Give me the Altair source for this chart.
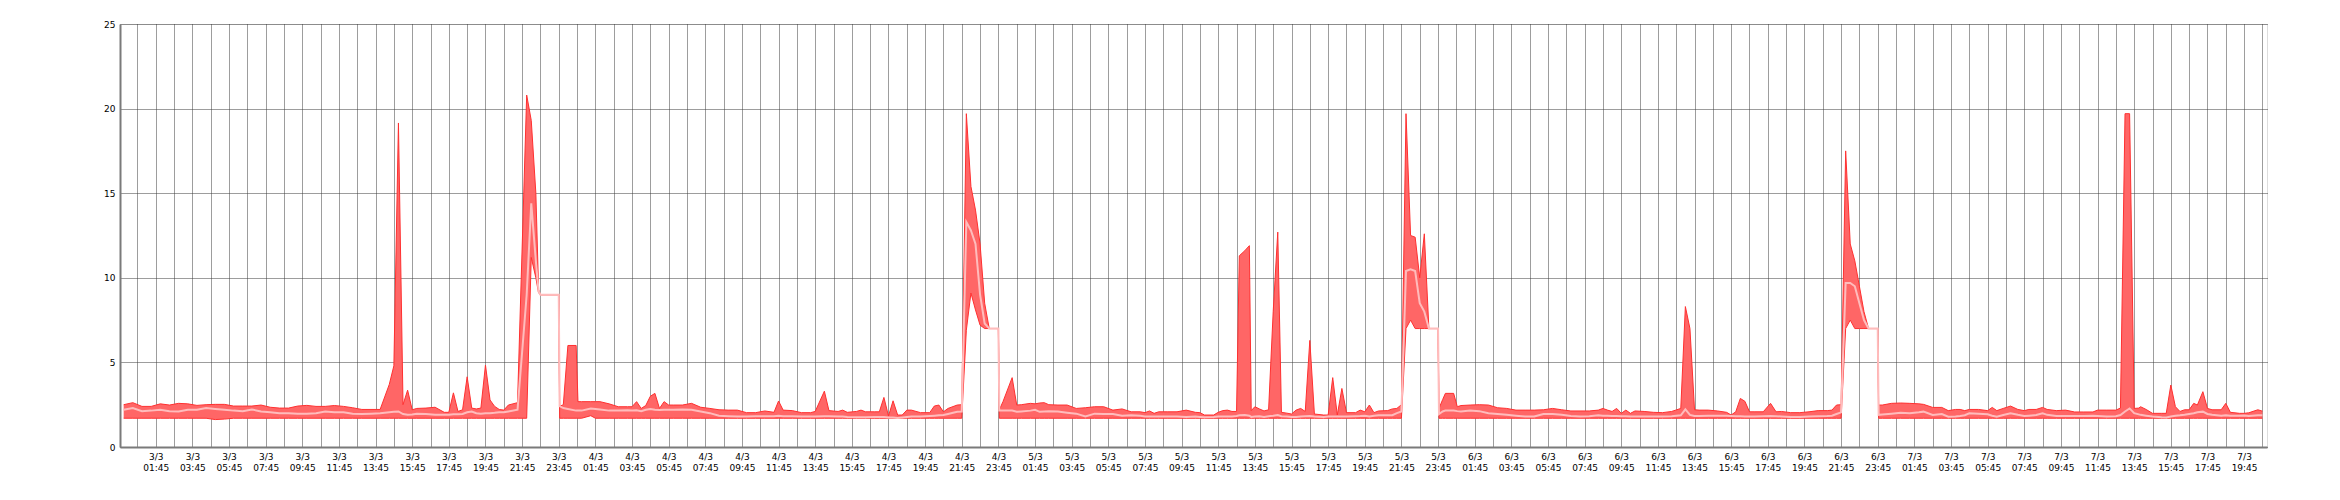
import altair as alt
import pandas as pd

# hours since 3/3 00:00
T = [0.0, 0.5, 1.0, 1.5, 2.0, 2.5, 3.0, 3.5, 4.0, 4.5, 5.0, 5.5, 6.0, 6.5, 7.0, 7.5, 8.0, 8.5, 9.0, 9.5,
     10.0, 10.5, 11.0, 11.5, 12.0, 12.5, 13.0, 13.5, 14.0, 14.5, 14.75, 15.0, 15.25, 15.5, 15.75, 16.0,
     16.5, 17.0, 17.5, 17.75, 18.0, 18.25, 18.5, 18.75, 19.0, 19.25, 19.5, 19.75, 20.0, 20.25, 20.5,
     20.75, 21.0, 21.5,
     22.0, 22.25, 22.5, 22.65, 22.75, 23.75, 23.8, 24.0, 24.25, 24.7, 24.8,
     25.0, 25.5, 25.75, 26.0, 26.5, 27.0, 27.5, 27.75, 28.0, 28.25, 28.5, 28.75, 29.0, 29.25, 29.5,
     29.75, 30.0, 30.5, 31.0, 31.5, 32.0, 32.5, 33.0, 33.5, 34.0, 34.5, 35.0, 35.5, 35.75, 36.0, 36.5,
     37.0, 37.5, 37.75, 38.25, 38.5, 39.0, 39.25, 39.5, 40.0, 40.25, 40.5, 41.0, 41.25, 41.5, 41.75,
     42.0, 42.25, 42.5, 42.75, 43.0, 43.5, 44.0, 44.25, 44.5, 44.75, 45.0, 45.5, 45.75,
     46.0, 46.25, 46.5, 46.75, 47.0, 47.25, 47.75, 47.8, 48.0, 48.5, 48.75,
     49.0, 49.5, 49.75, 50.0, 50.25, 50.5, 51.0, 51.5, 52.0, 52.5, 53.0, 53.5, 54.0, 54.5, 55.0, 55.5,
     55.75, 56.0, 56.25, 56.5, 57.0, 57.5, 58.0, 58.5, 58.75, 59.0, 59.5, 59.75, 60.0, 60.25, 60.5,
     60.75, 60.9, 61.2, 61.45, 61.55, 61.75, 62.0, 62.25, 62.5, 62.75, 63.0, 63.2, 63.5, 63.75, 64.0,
     64.25, 64.5, 64.75, 65.0, 65.5, 65.75, 66.0, 66.25, 66.5, 66.75, 67.25, 67.5, 67.75, 68.0, 68.25,
     68.5, 69.0, 69.25, 69.5, 69.75,
     70.0, 70.25, 70.5, 70.75, 71.0, 71.25, 71.75, 71.8, 72.0, 72.15, 72.6, 72.8, 73.0, 73.5, 74.0,
     74.5, 75.0, 75.5, 76.0, 76.5, 77.0, 77.5, 78.0,
     78.5, 79.0, 79.5, 80.0, 80.5, 80.75, 81.0, 81.25, 81.5, 81.75, 82.0, 82.25, 82.5, 83.0, 83.5,
     84.0, 84.5, 85.0, 85.25, 85.5, 85.75, 86.0, 86.5, 87.0, 87.5, 87.75, 88.0, 88.25, 88.5, 88.75,
     89.0, 89.5, 89.9, 90.2, 90.5, 91.0, 91.5, 92.0, 92.5, 93.0, 93.25, 93.5, 93.75,
     94.0, 94.25, 94.5, 94.75, 95.0, 95.25, 95.75, 95.8, 96.0, 96.5, 97.0, 97.5,
     98.0, 98.25, 98.75, 99.25, 99.6, 100.0, 100.25, 100.5, 100.75, 101.25, 101.75, 102.0, 102.25,
     102.6, 103.0, 103.4, 103.75, 104.0, 104.4, 104.75, 105.0, 105.5, 106.0, 106.5, 107.0, 107.5,
     107.75, 108.25, 108.75, 109.0, 109.25, 109.5, 109.75, 110.0, 110.1, 110.4, 110.75, 111.25, 111.5,
     111.75, 112.0, 112.25, 112.5, 112.75, 113.0, 113.2, 113.5, 113.75, 114.0, 114.5, 114.75, 115.0,
     115.5, 115.75, 116.0, 116.5, 116.75]

HI = [2.50, 2.62, 2.40, 2.40, 2.55, 2.48, 2.58, 2.55, 2.46, 2.50, 2.52, 2.52, 2.42, 2.42, 2.42, 2.48, 2.35, 2.30, 2.30, 2.42,
      2.46, 2.40, 2.40, 2.45, 2.40, 2.32, 2.22, 2.22, 2.22, 3.70, 4.80, 19.15, 2.50, 3.36, 2.20, 2.28,
      2.30, 2.35, 2.05, 2.05, 3.20, 2.10, 2.20, 4.15, 2.30, 2.25, 2.30, 4.84, 2.78, 2.40, 2.22,
      2.18, 2.48, 2.62,
      20.8, 19.3, 15.0, 9.3, 9.0, 9.0, 2.40, 2.50, 6.00, 6.00, 2.68,
      2.68, 2.68, 2.68, 2.68, 2.55, 2.38, 2.38, 2.38, 2.68, 2.28, 2.45, 3.00, 3.17, 2.28, 2.68,
      2.48, 2.48, 2.48, 2.58, 2.35, 2.28, 2.20, 2.18, 2.18, 2.03, 2.03, 2.13, 2.05, 2.72, 2.18, 2.15,
      2.03, 2.03, 2.10, 3.30, 2.15, 2.10, 2.18, 2.05, 2.10, 2.18, 2.08, 2.08, 2.08, 2.93, 1.83,
      2.73, 1.89, 1.89, 2.18, 2.18, 2.03, 2.03, 2.42, 2.48, 2.08, 2.28, 2.48, 2.50,
      19.7, 15.4, 14.0, 12.0, 8.5, 7.0, 7.0, 2.20, 2.68, 4.10, 2.48,
      2.50, 2.58, 2.55, 2.60, 2.62, 2.50, 2.48, 2.48, 2.28, 2.32, 2.38, 2.38, 2.18, 2.25, 2.08, 2.08,
      2.03, 2.13, 1.99, 2.08, 2.08, 2.08, 2.18, 2.05, 2.03, 1.89, 1.89, 2.05, 2.15, 2.18, 2.10,
      2.10, 11.3, 11.6, 11.9, 2.15, 2.38, 2.25, 2.13, 2.20, 8.0, 12.7, 2.05, 2.00, 1.95, 2.18,
      2.28, 2.10, 6.30, 1.95, 1.89, 1.89, 4.10, 1.89, 3.46, 2.03, 2.03, 2.18, 2.08, 2.48, 2.03,
      2.13, 2.15, 2.25, 2.28, 2.50,
      19.7, 12.5, 12.4, 10.0, 12.6, 7.0, 7.0, 2.28, 2.80, 3.17, 3.17, 2.38, 2.45, 2.48, 2.50,
      2.48, 2.32, 2.28, 2.18, 2.18, 2.18, 2.20, 2.28,
      2.20, 2.13, 2.13, 2.13, 2.18, 2.28, 2.18, 2.10, 2.28, 1.99, 2.18, 1.99, 2.13, 2.10, 2.05,
      2.03, 2.10, 2.28, 8.30, 7.00, 2.20, 2.18, 2.18, 2.13, 2.05, 1.89, 2.08, 2.87, 2.70, 2.08,
      2.08, 2.08, 2.58, 2.08, 2.10, 2.03, 2.03, 2.08, 2.15, 2.15, 2.18, 2.48, 2.50,
      17.5, 12.0, 11.0, 9.5, 8.0, 7.0, 7.0, 2.48, 2.48, 2.58, 2.60, 2.58,
      2.55, 2.52, 2.34, 2.34, 2.15, 2.22, 2.22, 2.15, 2.22, 2.22, 2.15, 2.34, 2.15,
      2.28, 2.42, 2.22, 2.15, 2.22, 2.22, 2.34, 2.22, 2.15, 2.18, 2.07, 2.07, 2.07,
      2.18, 2.18, 2.18, 2.30, 19.7, 19.7, 2.28, 2.30, 2.38, 2.22, 1.99, 1.99, 1.99,
      3.66, 2.38, 2.10, 2.20, 2.20, 2.58, 2.48, 3.27, 2.28, 2.20, 2.20, 2.58, 2.05,
      1.99, 1.99, 2.02, 2.20, 2.12]

AV = [2.20, 2.30, 2.12, 2.15, 2.20, 2.12, 2.10, 2.20, 2.20, 2.30, 2.25, 2.20, 2.15, 2.12, 2.22, 2.10, 2.05, 2.00, 2.00, 1.97,
      1.96, 2.00, 2.10, 2.05, 2.05, 1.97, 1.95, 1.97, 2.00, 2.05, 2.08, 2.10, 1.95, 1.90, 1.92, 1.97,
      1.95, 1.90, 1.90, 1.90, 1.93, 1.93, 1.95, 2.05, 2.10, 2.00, 1.97, 2.00, 2.00, 2.02, 2.05,
      2.05, 2.10, 2.20,
      9.0, 14.4, 11.0, 9.2, 9.0, 9.0, 2.42, 2.30, 2.25, 2.15, 2.15,
      2.15, 2.28, 2.25, 2.22, 2.15, 2.15, 2.17, 2.15, 2.17, 2.12, 2.20, 2.25, 2.20, 2.18, 2.20,
      2.20, 2.20, 2.22, 2.20, 2.10, 2.00, 1.85, 1.82, 1.80, 1.80, 1.82, 1.82, 1.82, 1.84, 1.82, 1.82,
      1.80, 1.80, 1.80, 1.82, 1.82, 1.80, 1.80, 1.78, 1.76, 1.76, 1.76, 1.78, 1.78, 1.78, 1.75,
      1.74, 1.72, 1.75, 1.78, 1.80, 1.80, 1.83, 1.85, 1.87, 1.89, 1.95, 2.08, 2.10,
      13.3, 12.8, 12.0, 9.0, 7.3, 7.0, 7.0, 2.15, 2.15, 2.15, 2.08,
      2.10, 2.15, 2.20, 2.08, 2.10, 2.12, 2.10, 2.03, 1.97, 1.80, 1.97, 1.95, 1.95, 1.85, 1.87, 1.85,
      1.80, 1.80, 1.80, 1.80, 1.80, 1.80, 1.78, 1.80, 1.78, 1.76, 1.78, 1.80, 1.80, 1.80, 1.80,
      1.83, 1.87, 1.89, 1.85, 1.78, 1.80, 1.82, 1.78, 1.82, 1.85, 1.89, 1.82, 1.80, 1.78, 1.78,
      1.80, 1.82, 1.83, 1.80, 1.78, 1.80, 1.80, 1.80, 1.80, 1.80, 1.82, 1.83, 1.85, 1.80, 1.85,
      1.87, 1.87, 1.88, 2.00, 2.10,
      10.4, 10.5, 10.4, 8.5, 8.0, 7.0, 7.0, 1.95, 2.10, 2.15, 2.15, 2.12, 2.10, 2.15, 2.12,
      2.00, 1.95, 1.90, 1.85, 1.80, 1.80, 1.95, 1.95,
      1.90, 1.83, 1.80, 1.82, 1.87, 1.85, 1.85, 1.83, 1.83, 1.82, 1.82, 1.80, 1.80, 1.80, 1.80,
      1.80, 1.82, 1.87, 2.22, 1.90, 1.83, 1.83, 1.85, 1.85, 1.84, 1.83, 1.82, 1.82, 1.80, 1.80,
      1.80, 1.82, 1.83, 1.82, 1.80, 1.77, 1.78, 1.80, 1.82, 1.83, 1.85, 1.95, 2.05,
      9.7, 9.7, 9.5, 8.5, 7.5, 7.0, 7.0, 1.90, 1.92, 1.97, 2.03, 1.99,
      2.05, 2.09, 1.89, 1.95, 1.79, 1.80, 1.83, 1.88, 1.99, 1.97, 1.93, 1.85, 1.79,
      1.89, 1.99, 1.90, 1.83, 1.85, 1.89, 1.99, 1.90, 1.83, 1.83, 1.83, 1.83, 1.85,
      1.83, 1.80, 1.82, 1.89, 2.10, 2.28, 2.00, 1.93, 1.90, 1.85, 1.80, 1.76, 1.75,
      1.80, 1.85, 1.87, 1.90, 1.95, 1.99, 2.05, 2.09, 1.95, 1.90, 1.85, 1.87, 1.85,
      1.85, 1.86, 1.83, 1.88, 1.88]

# the minimum sits flat at 1.7 except during the evening peaks
LO = ([1.70] * 10 + [1.62, 1.65] + [1.70] * 42 +
      [1.70, 11.2, 10.0, 9.1, 9.0, 9.0] + [1.70] * 6 + [1.85] + [1.70] * 57 +
      [6.9, 9.1, 8.1, 7.2, 7.0, 7.0, 7.0] + [1.70] * 70 +
      [7.0, 7.5, 7.0, 7.0, 7.0, 7.0, 7.0] + [1.70] * 59 +
      [7.0, 7.5, 7.0, 7.0, 7.0, 7.0, 7.0] + [1.70] * 62)

n = min(len(T), len(HI), len(AV), len(LO))
df = pd.DataFrame({"t": T[:n], "lo": LO[:n], "av": AV[:n], "hi": HI[:n]})

# hourly grid at :45, labelled every two hours (odd hours)
TICKS = [h + 0.75 for h in range(0, 117)]
Y_TICKS = [0, 5, 10, 15, 20, 25]

label_expr = (
    "(datum.value - 0.75) % 2 == 1 ? "
    "[(3 + floor(datum.value / 24)) + '/3', "
    "(floor(datum.value % 24) < 10 ? '0' : '') + floor(datum.value % 24) + ':45'] : ''"
)

GRID = dict(grid=True, gridColor="#3a3a3a", gridDash=[1, 1], gridWidth=1, gridOpacity=1,
            domainColor="#7a7a7a", domainWidth=2, ticks=False, title=None,
            labelFont="DejaVu Sans", labelFontSize=9, labelColor="#000000")

x_enc = alt.X(
    "t:Q",
    scale=alt.Scale(domain=[-0.2, 117.0], nice=False, zero=False),
    axis=alt.Axis(values=TICKS, labelExpr=label_expr, labelOverlap=False, labelFlush=False,
                  labelAngle=0, labelPadding=5, labelLineHeight=11.6, **GRID),
)
y_scale = alt.Scale(domain=[0, 25], nice=False)
y_axis = alt.Axis(values=Y_TICKS, labelPadding=5, **GRID)

area = alt.Chart(df).mark_area(color="#ff6666", opacity=1, interpolate="linear").encode(
    x=x_enc, y=alt.Y("lo:Q", scale=y_scale, axis=y_axis), y2="hi:Q")
hi_line = alt.Chart(df).mark_line(color="#ff3030", strokeWidth=1).encode(
    x=x_enc, y=alt.Y("hi:Q", scale=y_scale, axis=y_axis))
lo_line = alt.Chart(df).mark_line(color="#ff3030", strokeWidth=1).encode(
    x=x_enc, y=alt.Y("lo:Q", scale=y_scale, axis=y_axis))
av_line = alt.Chart(df).mark_line(color="#ffbcbc", strokeWidth=2).encode(
    x=x_enc, y=alt.Y("av:Q", scale=y_scale, axis=y_axis))

chart = alt.layer(area, hi_line, lo_line, av_line).properties(
    width=2147, height=423,
    autosize=alt.AutoSizeParams(type="none"),
    padding={"left": 112, "top": 16, "right": 10, "bottom": 40},
).configure_view(stroke=None).configure(background="white")

chart.save("out.html", embed_options={"renderer": "svg", "actions": False})
